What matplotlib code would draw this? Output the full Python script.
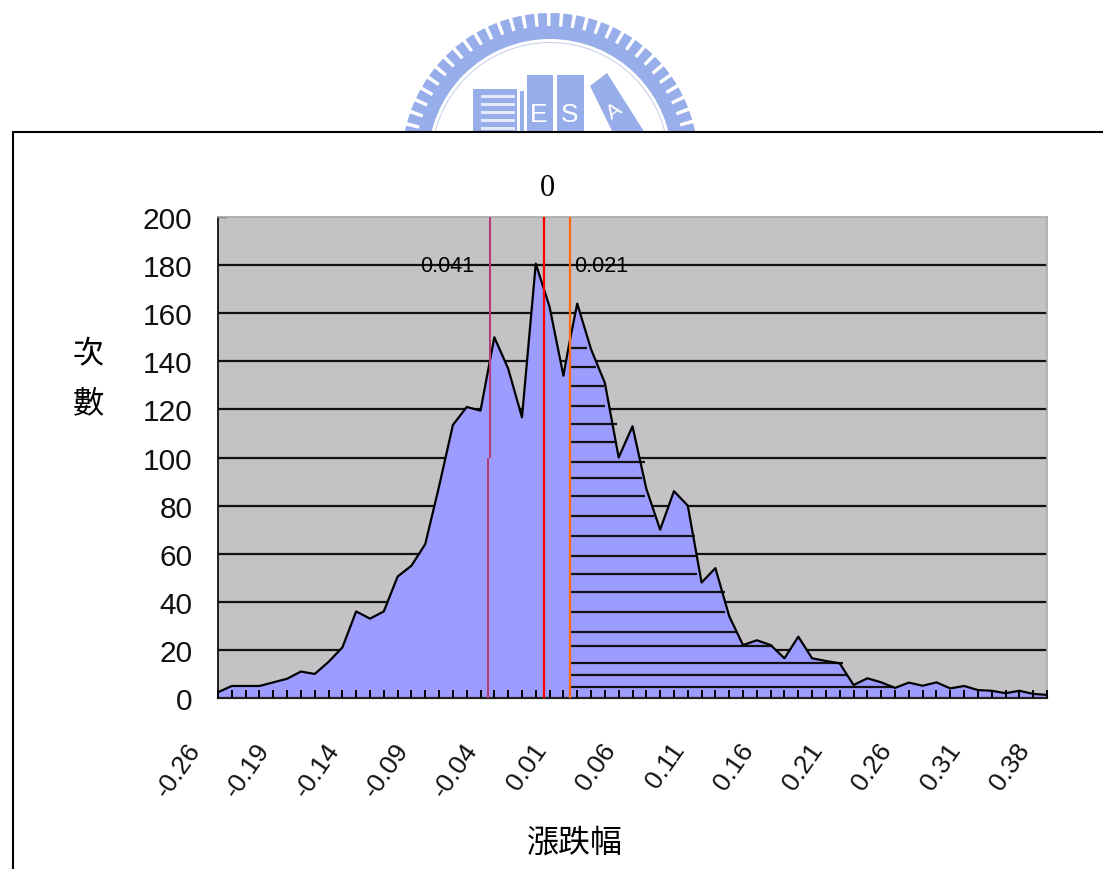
import numpy as np
import matplotlib
matplotlib.use("Agg")
import matplotlib.pyplot as plt
from matplotlib.patches import Wedge, Rectangle, Polygon
from matplotlib.transforms import ScaledTranslation

# ---- data ----
positions = sorted(list(range(0, 26)) + [25.4] + list(range(26, 61)))
counts = [2.4, 5, 5, 5, 6.5, 8, 11, 10, 15, 21, 36, 33, 36, 50.5, 55, 64, 88, 113.5, 121, 119.5,
          150, 137, 116.7, 180.6, 162.6, 134, 146.7,
          164, 145, 131, 100, 113, 87, 70, 86, 80, 48, 54, 34, 22, 24, 22, 16.5, 25.5, 16.5, 15.4,
          14.4, 5.4, 8.2, 6.5, 4.2, 6.4, 5.1, 6.5, 4, 5, 3.3, 3, 2, 3, 1.7, 1.3]
x_labels = ['-0.26', '-0.19', '-0.14', '-0.09', '-0.04', '0.01', '0.06',
            '0.11', '0.16', '0.21', '0.26', '0.31', '0.38']
y_ticks = [0, 20, 40, 60, 80, 100, 120, 140, 160, 180, 200]
hatch_levels = [145.7, 137.5, 129.9, 121.6, 114.1, 106.6, 98.3, 91.6, 84, 75.7,
                67.4, 58.9, 51.4, 43.9, 35.6, 27.3, 21.5, 14.7, 9.7, 4.7]
hatch_ends = [26.68, 27.35, 27.93, 28.0, 28.9, 28.7, 30.9, 30.67, 30.9, 31.57,
              34.5, 34.64, 34.7, 36.7, 36.7, 37.5, 40.2, 45.25, 45.5, 48.9]
pos_left_upper = 19.68
pos_left_lower = 19.55
pos_zero = 23.6
pos_right = 25.47
left_value = '0.041'
right_value = '0.021'
zero_label = '0'
x_title = '漲跌幅'
y_title = ['次', '數']

W, H = 1103, 870
SANS = ['Liberation Sans', 'DejaVu Sans']
CJK = ['Noto Sans CJK TC', 'DejaVu Sans']
fig = plt.figure(figsize=(W / 100, H / 100), dpi=100, facecolor='white')

# overlay in pixel coordinates for page furniture (y axis inverted)
pg = fig.add_axes([0, 0, 1, 1], zorder=0)
pg.set_xlim(0, W); pg.set_ylim(H, 0); pg.axis('off')

# watermark logo
LOGO = '#97AEEA'
cx, cy = 550, 162
pg.add_patch(Wedge((cx, cy), 135, 180, 360, width=13, fc=LOGO, ec='none'))
pg.add_patch(Wedge((cx, cy), 119, 180, 360, width=1, fc='#C5CFEA', ec='none'))
for a in np.arange(182, 360, 5.0):
    pg.add_patch(Wedge((cx, cy), 148, a - 1.8, a + 1.8, width=16, fc=LOGO, ec='none'))
pg.add_patch(Rectangle((473, 90), 44, 44, fc=LOGO, ec='none'))
for y in range(96, 132, 8):
    pg.add_patch(Rectangle((481, y), 34, 3, fc='#E4E9F8', ec='none'))
pg.add_patch(Rectangle((520, 92), 4, 42, fc=LOGO, ec='none'))
pg.add_patch(Rectangle((527, 76), 26, 58, fc=LOGO, ec='none'))
pg.add_patch(Rectangle((557, 76), 27, 58, fc=LOGO, ec='none'))
pg.add_patch(Polygon([(590, 87), (607, 74), (645, 134), (613, 134)], fc=LOGO, ec='none'))
pg.text(539, 115, 'E', color='white', ha='center', va='center', fontsize=19, family=SANS)
pg.text(570, 115, 'S', color='white', ha='center', va='center', fontsize=19, family=SANS)
pg.text(614, 112, 'A', color='white', ha='center', va='center', fontsize=15, rotation=35, family=SANS)

# framed panel
pg.add_patch(Rectangle((12.5, 133), W, H, fc='white', ec='black', lw=1.5, zorder=3))

# page text
pg.text(547, 189, zero_label, ha='center', va='center', fontsize=22, family='Liberation Serif', zorder=5)
pg.text(88, 354, y_title[0], ha='center', va='center', fontsize=22.5, family=CJK, zorder=5)
pg.text(88, 403, y_title[1], ha='center', va='center', fontsize=22.5, family=CJK, zorder=5)
pg.text(575, 843, x_title, ha='center', va='center', fontsize=23, family=CJK, zorder=5)

# chart
ax = fig.add_axes([218 / W, 1 - 699 / H, (1047 - 218) / W, (699 - 218) / H], zorder=2)
ax.set_facecolor('#C4C2C4')
ax.set_xlim(0, 60); ax.set_ylim(0, 200)
ax.set_axisbelow(False)

ax.hlines(y_ticks[1:-1], 0, 60, color='#111111', lw=1.6, zorder=1)
ax.hlines(y_ticks[-1], 0, 0.65, color='#111111', lw=1.6, zorder=1)
ax.fill_between(positions, counts, 0, color='#9C9CFF', lw=0, zorder=2)
ax.hlines(hatch_levels, pos_right, hatch_ends, color='#111111', lw=1.6, zorder=2.6)
ax.plot(positions, counts, color='black', lw=1.6, zorder=3)

ax.vlines(pos_left_upper, 100, 200, color='#B23C78', lw=1.5, zorder=4)
ax.vlines(pos_left_lower, 0, 100, color='#B23C78', lw=1.5, zorder=4)
ax.vlines(pos_zero, 0, 200, color='#FF0000', lw=1.6, zorder=4)
ax.vlines(pos_right, 0, 200, color='#FF6A10', lw=1.6, zorder=4)

ax.text(16.6, 180, left_value, ha='center', va='center', fontsize=15.5, family=SANS, zorder=5)
ax.text(27.7, 180, right_value, ha='center', va='center', fontsize=15.5, family=SANS, zorder=5)

ax.set_yticks(y_ticks)
ax.set_xticks(range(0, 61, 5))
ax.set_xticks(range(0, 61), minor=True)
ax.set_xticklabels(x_labels, rotation=55, ha='right', va='top', rotation_mode='anchor',
                   fontsize=19, family=SANS, color='#111111')
ax.tick_params(axis='x', which='both', direction='in', length=6, width=1.4, color='black', pad=29)
ax.tick_params(axis='y', length=0, pad=18.5)
for lab in ax.get_yticklabels():
    lab.set_fontsize(21.5); lab.set_family(SANS); lab.set_color('#111111')
shift = ScaledTranslation(-0.32, 0, fig.dpi_scale_trans)
for lab in ax.get_xticklabels():
    lab.set_transform(lab.get_transform() + shift)

ax.spines['left'].set_color('#111111'); ax.spines['left'].set_linewidth(1.3)
ax.spines['bottom'].set_color('#222222'); ax.spines['bottom'].set_linewidth(1.6)
ax.spines['top'].set_color('#A8A8A8'); ax.spines['top'].set_linewidth(1.2)
ax.spines['right'].set_color('#A8A8A8'); ax.spines['right'].set_linewidth(1.2)

fig.savefig('out.png', dpi=100, facecolor='white')
